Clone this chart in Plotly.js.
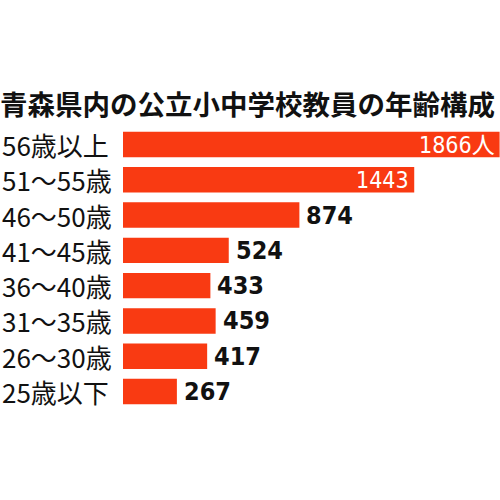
<!DOCTYPE html>
<html>
<head>
<meta charset="utf-8">
<script src="https://cdn.plot.ly/plotly-3.0.1.min.js"></script>
<style>html,body{margin:0;padding:0;background:#fff;}#chart{width:500px;height:500px;}</style>
</head>
<body>
<div id="chart"></div>
<script>
const chartTitle = '青森県内の公立小中学校教員の年齢構成';
const categories = ['56歳以上', '51～55歳', '46～50歳', '41～45歳', '36～40歳', '31～35歳', '26～30歳', '25歳以下'];
const teachers = [1866, 1443, 874, 524, 433, 459, 417, 267];
const valueLabels = ['1866人', '1443', '874', '524', '433', '459', '417', '267'];
const insideLabel = [true, true, false, false, false, false, false, false];

const barColor = '#f93a12';
const cjk = '"Noto Sans CJK JP", "Noto Sans CJK SC", sans-serif';
const numFont = '"Liberation Sans Narrow", "Arial Narrow", "DejaVu Sans Condensed", "Roboto Condensed", "Liberation Sans", "Noto Sans CJK JP", sans-serif';

const W = 500, L = 123, R = 0;
const plotW = W - L - R;

const annotations = [];
categories.forEach((c, i) => {
  annotations.push({
    text: c, xref: 'paper', yref: 'y', x: -L / plotW, y: c,
    xanchor: 'left', yanchor: 'middle', showarrow: false,
    font: {family: cjk, size: 26, color: '#111', weight: 400}
  });
  const inside = insideLabel[i];
  annotations.push({
    text: valueLabels[i], xref: 'x', yref: 'y', x: teachers[i], y: c,
    xanchor: inside ? 'right' : 'left', yanchor: 'middle', showarrow: false,
    xshift: inside ? -3 : 5,
    font: {family: numFont, size: inside ? 23 : 25, color: inside ? '#ffffff' : '#111111', weight: inside ? 400 : 700}
  });
});

const data = [{
  type: 'bar', orientation: 'h',
  x: teachers, y: categories,
  marker: {color: barColor, line: {width: 0}},
  hoverinfo: 'none'
}];

const layout = {
  width: 500, height: 500,
  margin: {l: L, r: R, t: 124, b: 88},
  paper_bgcolor: '#ffffff', plot_bgcolor: '#ffffff',
  showlegend: false,
  bargap: 0.28,
  title: {
    text: chartTitle,
    font: {family: cjk, size: 27.5, color: '#111', weight: 700},
    xref: 'container', x: 0, xanchor: 'left',
    yref: 'container', y: 1 - 105 / 500, yanchor: 'middle',
    pad: {l: 0, t: 0, b: 0, r: 0}
  },
  xaxis: {range: [0, 1868], visible: false, fixedrange: true},
  yaxis: {type: 'category', categoryorder: 'array', categoryarray: categories,
          autorange: 'reversed', showticklabels: false, showgrid: false, zeroline: false,
          showline: false, ticks: '', fixedrange: true},
  annotations: annotations
};

Plotly.newPlot('chart', data, layout, {displayModeBar: false, staticPlot: true});
</script>
</body>
</html>
